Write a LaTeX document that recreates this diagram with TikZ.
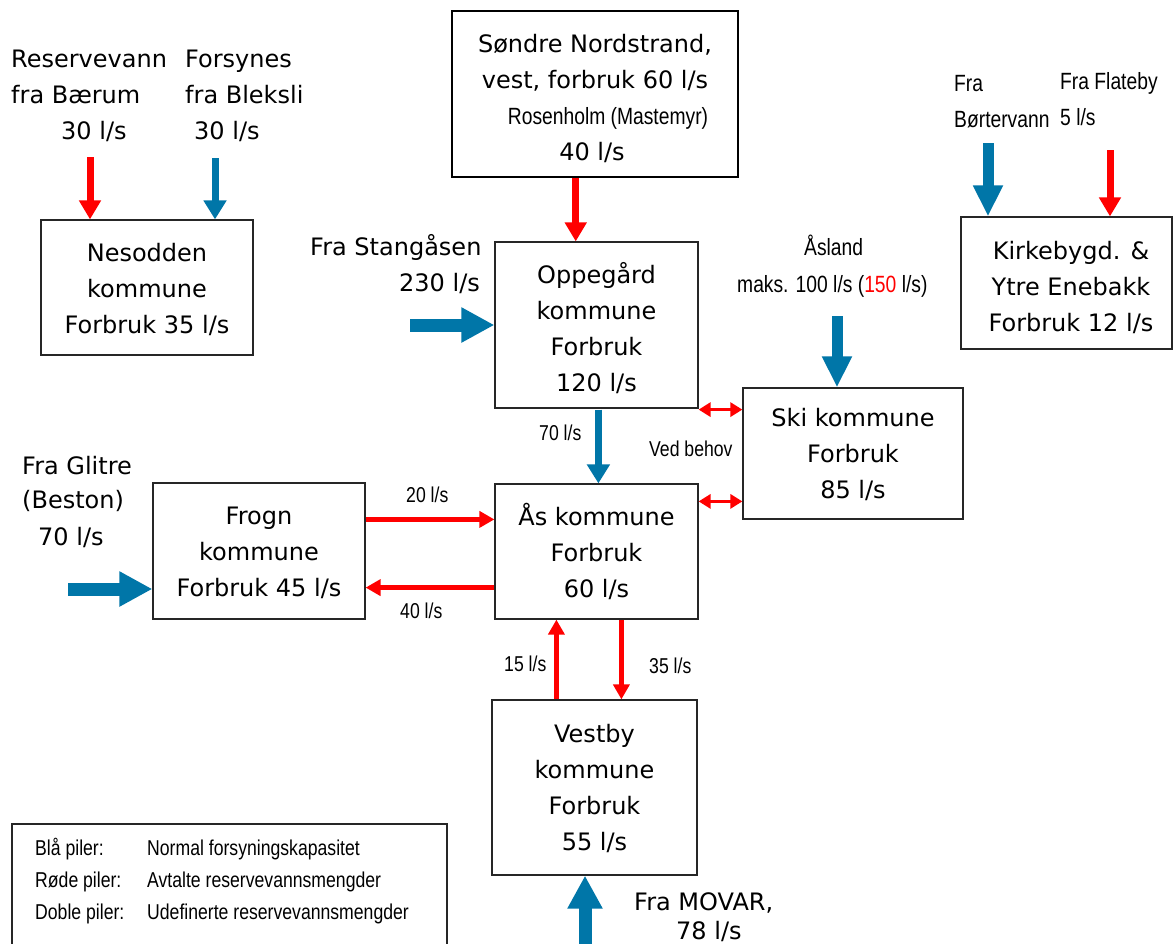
\documentclass[tikz,border=0pt]{standalone}
\usepackage{fontspec}
\setmainfont{DejaVu Sans}
\newfontfamily\narrowfam[FakeStretch=0.82]{Liberation Sans}
\usetikzlibrary{arrows.meta,calc}
\definecolor{aqblue}{RGB}{0,118,168}
\definecolor{aqred}{RGB}{255,0,0}
\newcommand\bigf{\fontsize{24}{36}\selectfont}
\newcommand\midf{\narrowfam\fontsize{23.5}{36}\selectfont}
\newcommand\smallf{\narrowfam\fontsize{21.5}{33}\selectfont}
\begin{document}
\begin{tikzpicture}[x=1pt,y=-1pt,
  box/.style={draw=black!85, line width=1.2pt, align=center, font=\bigf, inner sep=0pt},
  lbl/.style={anchor=base west, inner sep=0pt, font=\bigf},
  nlbl/.style={anchor=base west, inner sep=0pt, font=\midf},
  slbl/.style={anchor=base west, inner sep=0pt, font=\smallf},
  redarr/.style={draw=aqred, line width=7pt, -{Triangle[width=21pt,length=19pt]}},
  bluearr/.style={draw=aqblue, line width=7pt, -{Triangle[width=22pt,length=19pt]}},
  midblue/.style={draw=aqblue, line width=11pt, -{Triangle[width=28pt,length=31pt]}},
  bigblue/.style={draw=aqblue, line width=13pt, -{Triangle[width=33pt,length=33pt]}},
  thinred/.style={draw=aqred, line width=5pt, -{Triangle[width=16pt,length=15pt]}},
  dblred/.style={draw=aqred, line width=3pt, {Triangle[width=14pt,length=12pt]}-{Triangle[width=14pt,length=12pt]}},
]
\fill[white] (0,0) rectangle (1173,943);
\useasboundingbox (0,0) rectangle (1173,943);

% boxes
\node[box, minimum width=212pt, minimum height=135pt] (nes) at (147,287.5) {\rule{0pt}{22pt}Nesodden\\kommune\\Forbruk 35 l/s};
\node[box, draw=black, line width=2.5pt, minimum width=286pt, minimum height=166pt] (sondre) at (595,94)
  {\rule{0pt}{28pt}Søndre Nordstrand,\\vest, forbruk 60 l/s\\\hspace*{26pt}{\midf Rosenholm (Mastemyr)}\\40 l/s\hspace*{6pt}};
\node[box, minimum width=203pt, minimum height=166pt] (opp) at (596.5,325) {\rule{0pt}{27pt}Oppegård\\kommune\\Forbruk\\120 l/s};
\node[box, minimum width=211pt, minimum height=132pt] (kirk) at (1066.5,283) {\rule{0pt}{27pt}\hspace*{9pt}Kirkebygd. \&\\\hspace*{9pt}Ytre Enebakk\\\hspace*{9pt}Forbruk 12 l/s};
\node[box, minimum width=220pt, minimum height=131pt] (ski) at (853,453.5) {\rule{0pt}{21pt}Ski kommune\\Forbruk\\85 l/s};
\node[box, minimum width=203pt, minimum height=135pt] (as) at (596.5,551.5) {Ås kommune\\Forbruk\\60 l/s};
\node[box, minimum width=212pt, minimum height=136pt] (frogn) at (259,551) {\rule{0pt}{21pt}Frogn\\kommune\\Forbruk 45 l/s};
\node[box, minimum width=205pt, minimum height=175pt] (ves) at (594.5,787.5) {\rule{0pt}{20pt}Vestby\\kommune\\Forbruk\\55 l/s};
\node[draw=black!85, line width=1.2pt, minimum width=435pt, minimum height=130pt, inner sep=0pt] (leg) at (229.5,889) {};

% source labels
\node[lbl] (t1a) at (11,67) {Reservevann};
\node[lbl] (t1b) at (11,103) {fra Bærum};
\node[lbl] (t1c) at (61,139) {30 l/s};
\node[lbl] (t2a) at (185,67) {Forsynes};
\node[lbl] (t2b) at (185,103) {fra Bleksli};
\node[lbl] (t2c) at (194,139) {30 l/s};
\node[lbl] (t3a) at (310,255) {Fra Stangåsen};
\node[lbl] (t3b) at (399,291) {230 l/s};
\node[nlbl] (t4a) at (804,255) {Åsland};
\node[nlbl] (t4b) at (737,292) {maks. 100 l/s (\textcolor{aqred}{150} l/s)};
\node[nlbl] (t5a) at (954,91) {Fra};
\node[nlbl] (t5b) at (954,127) {Børtervann};
\node[nlbl] (t6a) at (1060,89) {Fra Flateby};
\node[nlbl] (t6b) at (1060,125) {5 l/s};
\node[lbl] (t7a) at (22,474) {Fra Glitre};
\node[lbl] (t7b) at (22,508) {(Beston)};
\node[lbl] (t7c) at (38,545) {70 l/s};
\node[lbl] (t8a) at (634,910) {Fra MOVAR,};
\node[lbl] (t8b) at (676,939) {78 l/s};

% connector labels
\node[slbl] (l70) at (539,440) {70 l/s};
\node[slbl] (lved) at (649,456) {Ved behov};
\node[slbl] (l20) at (406,502) {20 l/s};
\node[slbl] (l40) at (400,618) {40 l/s};
\node[slbl] (l15) at (504,671) {15 l/s};
\node[slbl] (l35) at (649,673) {35 l/s};

% legend
\node[slbl] (g1a) at (35,855) {Blå piler:};
\node[slbl] (g1b) at (147,855) {Normal forsyningskapasitet};
\node[slbl] (g2a) at (35,887) {Røde piler:};
\node[slbl] (g2b) at (147,887) {Avtalte reservevannsmengder};
\node[slbl] (g3a) at (35,919) {Doble piler:};
\node[slbl] (g3b) at (147,919) {Udefinerte reservevannsmengder};

% free ends and attachment points
\coordinate (cbaerum) at (90,157);
\coordinate (cbleksli) at (215,158);
\coordinate (cstang) at (410,325);
\coordinate (casland) at (837,316);
\coordinate (cborter) at (988,143);
\coordinate (cflate) at (1110,150);
\coordinate (cglitre) at (68,589);
\coordinate (cmovar) at (585,950);
\coordinate (csondre) at ($(sondre.south west)+(125,0)$);
\coordinate (coppas) at ($(opp.south west)+(104,1)$);
\coordinate (coppski) at ($(opp.south east)+(0,1)$);
\coordinate (casski) at ($(as.north east)+(0,18)$);
\coordinate (cfrognas) at ($(frogn.north east)+(0,37)$);
\coordinate (casfrogn) at ($(as.south west)+(0,-32)$);
\coordinate (cvesas) at ($(ves.north west)+(65,0)$);
\coordinate (casves) at ($(as.south west)+(127,0)$);

% arrows
\draw[redarr] (cbaerum) -- (cbaerum |- nes.north);
\draw[bluearr] (cbleksli) -- (cbleksli |- nes.north);
\draw[redarr] (csondre) -- (csondre |- opp.north);
\draw[bigblue] (cstang) -- (cstang -| opp.west);
\draw[midblue] (casland) -- (casland |- ski.north);
\draw[midblue] (cborter) -- (cborter |- kirk.north);
\draw[redarr] (cflate) -- (cflate |- kirk.north);
\draw[bluearr] (coppas) -- (coppas |- as.north);
\draw[dblred] (coppski) -- (coppski -| ski.west);
\draw[dblred] (casski) -- (casski -| ski.west);
\draw[bigblue] (cglitre) -- (cglitre -| frogn.west);
\draw[thinred] (cfrognas) -- (cfrognas -| as.west);
\draw[thinred] (casfrogn) -- (casfrogn -| frogn.east);
\draw[thinred] (cvesas) -- (cvesas |- as.south);
\draw[thinred] (casves) -- (casves |- ves.north);
\draw[bigblue] (cmovar) -- (cmovar |- ves.south);
\end{tikzpicture}
\end{document}
